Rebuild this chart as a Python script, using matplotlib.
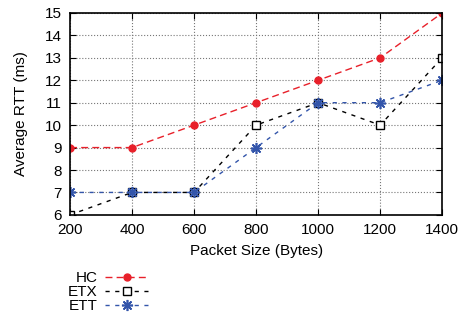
import matplotlib.pyplot as plt

packet_size = [200, 400, 600, 800, 1000, 1200, 1400]
hc = [9, 9, 10, 11, 12, 13, 15]
etx = [6, 7, 7, 10, 11, 10, 13]
ett = [7, 7, 7, 9, 11, 11, 12]

plt.rcParams['font.family'] = 'Liberation Sans'
plt.rcParams['font.size'] = 11

fig = plt.figure(figsize=(4.64, 3.16), dpi=100)
ax = fig.add_axes([0.151, 0.320, 0.802, 0.639])

ax.plot(packet_size, hc, color='#e8202a', linestyle=(0, (5, 3)), linewidth=1,
        marker='o', markersize=5, label='HC')
ax.plot(packet_size, etx, color='black', linestyle=(0, (3, 4)), linewidth=1,
        marker='s', markersize=6, markerfacecolor='white', markeredgewidth=1, label='ETX')
ax.plot(packet_size, ett, color='#3355aa', linestyle=(0, (3, 4)), linewidth=1,
        marker=(8, 2, 0), markersize=8, markeredgewidth=1.2, label='ETT')

ax.set_xlim(200, 1400)
ax.set_ylim(6, 15)
ax.set_xticks(packet_size)
ax.set_yticks(range(6, 16))
ax.grid(True, color='#777777', linestyle=':', linewidth=0.8)
ax.tick_params(direction='in', length=4, top=True, right=True, pad=6)
for s in ax.spines.values():
    s.set_linewidth(1.2)
ax.set_xlabel('Packet Size (Bytes)', labelpad=5)
ax.set_ylabel('Average RTT (ms)', labelpad=12)

leg = fig.legend(loc='lower left', bbox_to_anchor=(0.12, -0.03), markerfirst=False,
                 frameon=False, handlelength=2.8, labelspacing=0.0, handletextpad=0.5,
                 borderpad=0.3)

fig.savefig('out.png', dpi=100)
